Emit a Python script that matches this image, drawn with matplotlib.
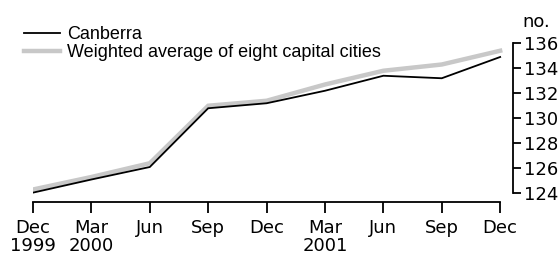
import matplotlib
matplotlib.use("Agg")
import matplotlib.pyplot as plt

quarters = ["Dec\n1999", "Mar\n2000", "Jun", "Sep", "Dec", "Mar\n2001", "Jun", "Sep", "Dec"]
canberra = [124.05, 125.1, 126.1, 130.8, 131.2, 132.2, 133.4, 133.2, 134.9]
weighted = [124.3, 125.3, 126.4, 131.0, 131.4, 132.7, 133.8, 134.3, 135.4]
yticks = [124, 126, 128, 130, 132, 134, 136]

plt.rcParams['font.family'] = ['Liberation Sans', 'DejaVu Sans']
FS = 13
TICKFONT = 'DejaVu Sans'

W, H = 559, 256
fig = plt.figure(figsize=(W / 100, H / 100), dpi=100)
left, right, bottom, top = 33, 513, 202, 30
ax = fig.add_axes([left / W, 1 - bottom / H, (right - left) / W, (bottom - top) / H])

x = list(range(len(quarters)))
ax.plot(x, weighted, color='#c8c8c8', lw=3.2, solid_joinstyle='miter',
        label='Weighted average of eight capital cities', zorder=2)
ax.plot(x, canberra, color='black', lw=1.3, solid_joinstyle='miter',
        label='Canberra', zorder=3)

ax.set_xlim(0, 8.22)
ax.set_ylim(123.3, 137.06)

for s in ['top', 'left']:
    ax.spines[s].set_visible(False)
ax.spines['bottom'].set_bounds(0, 8)
ax.spines['right'].set_bounds(124, 136)
ax.spines['bottom'].set_linewidth(1.3)
ax.spines['right'].set_linewidth(1.3)

ax.set_xticks(x)
ax.set_xticklabels(quarters, fontsize=FS, linespacing=1.02, family=TICKFONT)
ax.tick_params(axis='x', direction='out', length=8, width=1.3, pad=4)

ax.yaxis.tick_right()
ax.set_yticks(yticks)
ax.set_yticklabels([str(v) for v in yticks], fontsize=FS, family=TICKFONT)
ax.tick_params(axis='y', direction='out', length=6, width=1.3, pad=2)

fig.text(522 / W, 1 - 27 / H, 'no.', fontsize=FS, ha='left', va='baseline',
         family=TICKFONT)

handles, labels = ax.get_legend_handles_labels()
leg = fig.legend(handles[::-1], labels[::-1], loc='upper left',
                 bbox_to_anchor=(24 / W, 1 - 26 / H), frameon=False,
                 fontsize=FS, handlelength=2.0, handletextpad=0.4,
                 labelspacing=0.05, borderpad=0, borderaxespad=0)

fig.savefig('out.png', dpi=100)
